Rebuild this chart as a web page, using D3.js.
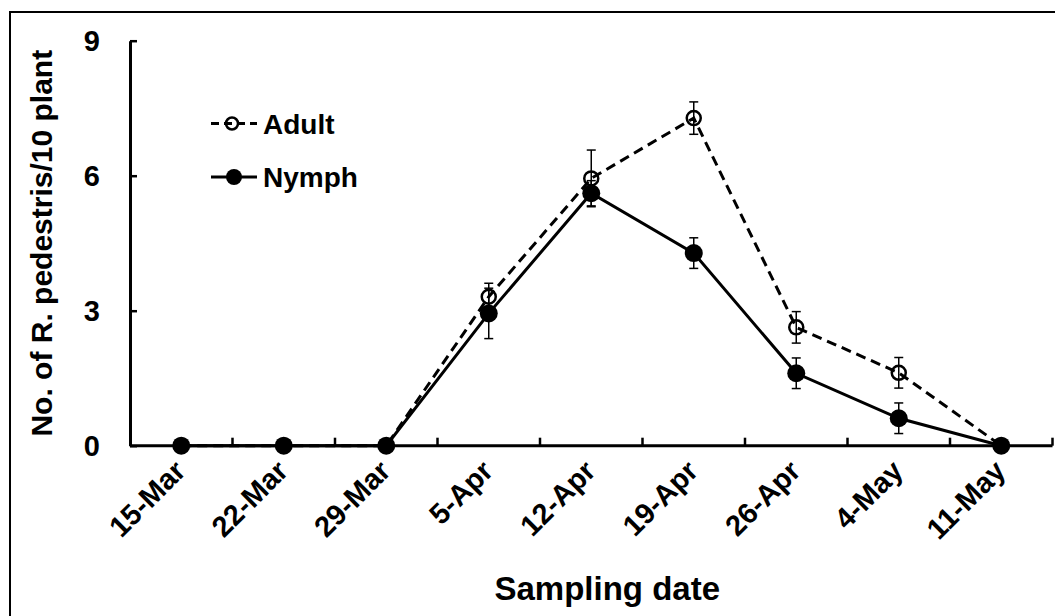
<!DOCTYPE html>
<html>
<head>
<meta charset="utf-8">
<script src="https://cdn.jsdelivr.net/npm/d3@7"></script>
<style>
  html, body { margin: 0; padding: 0; background: #fff; }
  svg { display: block; }
  text { font-family: "Liberation Sans", Arial, sans-serif; font-weight: bold; fill: #000; }
</style>
</head>
<body>
<svg id="chart" width="1055" height="616"></svg>
<script>
const categories = ["15-Mar","22-Mar","29-Mar","5-Apr","12-Apr","19-Apr","26-Apr","4-May","11-May"];
const adultValues = [0, 0, 0, 3.31, 5.94, 7.28, 2.63, 1.62, 0];
const adultErrors = [0, 0, 0, 0.30, 0.63, 0.36, 0.35, 0.34, 0];
const nymphValues = [0, 0, 0, 2.94, 5.61, 4.28, 1.61, 0.61, 0];
const nymphErrors = [0, 0, 0, 0.56, 0.28, 0.34, 0.34, 0.34, 0];
const yTicks = [0, 3, 6, 9];
const seriesNames = ["Adult", "Nymph"];
const xTitle = "Sampling date";
const yTitle = "No. of R. pedestris/10 plant";

const svg = d3.select("#chart");

// outer frame
svg.append("rect").attr("x", 10).attr("y", 12).attr("width", 1100).attr("height", 700)
  .attr("fill", "none").attr("stroke", "#000").attr("stroke-width", 2);

const pL = 130, pR = 1052.5, pT = 40.7, pB = 445.7;
const x = d3.scaleBand().domain(categories).range([pL, pR]).padding(0);
const y = d3.scaleLinear().domain([0, 9]).range([pB, pT]);
const cx = d => x(d) + x.bandwidth() / 2;

// Y axis
const yAxis = svg.append("g").attr("transform", `translate(${pL},0)`)
  .call(d3.axisLeft(y).tickValues(yTicks).tickSize(-7).tickPadding(30).tickSizeOuter(0));
yAxis.select(".domain").attr("stroke-width", 3);
yAxis.selectAll(".tick line").attr("stroke-width", 2.5);
yAxis.selectAll(".tick text").attr("font-size", 29).attr("font-family", "Liberation Sans, Arial, sans-serif").attr("font-weight", "bold").attr("dy", "0.35em");

// X axis: ticks at band boundaries
const xAxisG = svg.append("g");
xAxisG.append("line").attr("x1", pL).attr("x2", pR).attr("y1", pB).attr("y2", pB)
  .attr("stroke", "#000").attr("stroke-width", 3);
const boundaries = categories.map(c => x(c)).concat([x(categories[categories.length - 1]) + x.bandwidth()]).slice(1);
xAxisG.selectAll("line.tk").data(boundaries).enter().append("line").attr("class", "tk")
  .attr("x1", d => d).attr("x2", d => d).attr("y1", pB).attr("y2", pB - 8)
  .attr("stroke", "#000").attr("stroke-width", 2.5);
xAxisG.selectAll("text.xl").data(categories).enter().append("text").attr("class", "xl")
  .attr("font-size", 29).attr("text-anchor", "end")
  .attr("transform", d => `translate(${cx(d) + 6},${pB + 27}) rotate(-45)`)
  .text(d => d);

// titles
svg.append("text").attr("x", (pL + pR) / 2 + 16).attr("y", 600).attr("text-anchor", "middle")
  .attr("font-size", 33).text(xTitle);
svg.append("text").attr("transform", `translate(52,${(pT + pB) / 2}) rotate(-90)`)
  .attr("text-anchor", "middle").attr("font-size", 30).text(yTitle);

// series
const line = d3.line().x((d, i) => cx(categories[i])).y(d => y(d));

function errorBars(vals, errs) {
  const g = svg.append("g");
  vals.forEach((v, i) => {
    const e = errs[i];
    if (!e) return;
    const xc = cx(categories[i]);
    g.append("line").attr("x1", xc).attr("x2", xc).attr("y1", y(v - e)).attr("y2", y(v + e))
      .attr("stroke", "#000").attr("stroke-width", 1.5);
    [v - e, v + e].forEach(t => g.append("line").attr("x1", xc - 4.5).attr("x2", xc + 4.5)
      .attr("y1", y(t)).attr("y2", y(t)).attr("stroke", "#000").attr("stroke-width", 1.5));
  });
}

// Adult
svg.append("path").datum(adultValues).attr("d", line).attr("fill", "none")
  .attr("stroke", "#000").attr("stroke-width", 3).attr("stroke-dasharray", "10,6");
errorBars(adultValues, adultErrors);
svg.append("g").selectAll("circle").data(adultValues).enter().append("circle")
  .attr("cx", (d, i) => cx(categories[i])).attr("cy", d => y(d)).attr("r", 7)
  .attr("fill", "none").attr("stroke", "#000").attr("stroke-width", 2.5);

// Nymph
svg.append("path").datum(nymphValues).attr("d", line).attr("fill", "none")
  .attr("stroke", "#000").attr("stroke-width", 3);
errorBars(nymphValues, nymphErrors);
svg.append("g").selectAll("circle").data(nymphValues).enter().append("circle")
  .attr("cx", (d, i) => cx(categories[i])).attr("cy", d => y(d)).attr("r", 9)
  .attr("fill", "#000");

// legend
const lg = svg.append("g");
lg.append("line").attr("x1", 211).attr("x2", 257).attr("y1", 123.5).attr("y2", 123.5)
  .attr("stroke", "#000").attr("stroke-width", 3).attr("stroke-dasharray", "8,5");
lg.append("circle").attr("cx", 232).attr("cy", 123.5).attr("r", 6).attr("fill", "none")
  .attr("stroke", "#000").attr("stroke-width", 2.5);
lg.append("text").attr("x", 263).attr("y", 133.5).attr("font-size", 28).text(seriesNames[0]);
lg.append("line").attr("x1", 211).attr("x2", 257).attr("y1", 177).attr("y2", 177)
  .attr("stroke", "#000").attr("stroke-width", 3);
lg.append("circle").attr("cx", 234).attr("cy", 177).attr("r", 8).attr("fill", "#000");
lg.append("text").attr("x", 263).attr("y", 187).attr("font-size", 28).text(seriesNames[1]);
</script>
</body>
</html>
